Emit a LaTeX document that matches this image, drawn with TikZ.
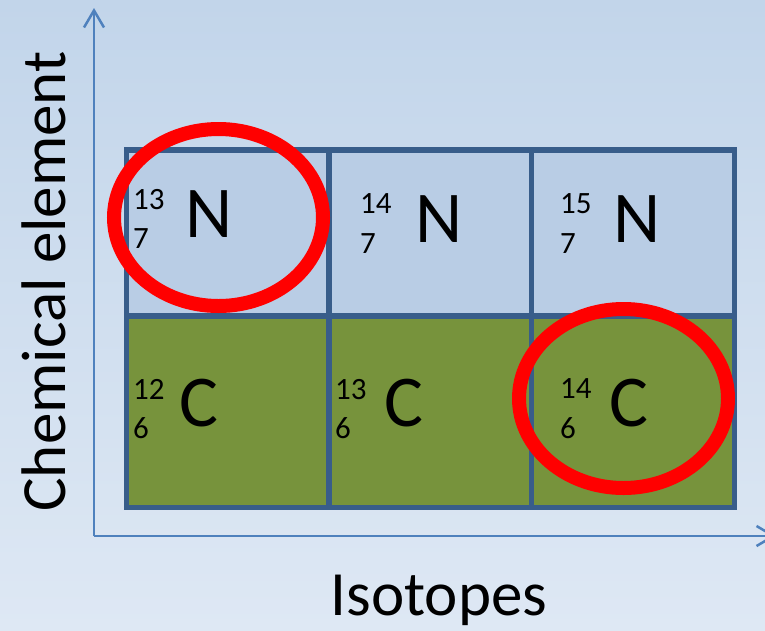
\documentclass[tikz,border=0pt]{standalone}
\usepackage{fontspec}
\setmainfont{Carlito}
\usetikzlibrary{arrows.meta,shapes.geometric}
\definecolor{bgtop}{RGB}{194,213,234}
\definecolor{bgbot}{RGB}{222,232,244}
\definecolor{topfill}{RGB}{185,205,229}
\definecolor{botfill}{RGB}{119,147,60}
\definecolor{gridc}{RGB}{56,93,138}
\definecolor{axisc}{RGB}{79,129,189}
\tikzset{
  cell/.style={draw=gridc, line width=5.5pt, minimum width=203pt, inner sep=0pt, line join=miter},
  big/.style={font=\fontsize{73}{73}\selectfont, anchor=base west, inner sep=0pt},
  small/.style={font=\fontsize{31}{31}\selectfont, anchor=base west, inner sep=0pt},
  axislabel/.style={font=\fontsize{63}{63}\selectfont, anchor=base, inner sep=0pt},
  axisline/.style={draw=axisc, line width=2.5pt, -{Straight Barb[length=17pt,width=20pt,line width=2.5pt]}},
  ring/.style={draw=red, line width=14pt, ellipse, inner sep=0pt},
}
\begin{document}
\begin{tikzpicture}[x=1pt,y=-1pt]
\useasboundingbox (0,0) rectangle (765,630);
\shade[top color=bgtop, bottom color=bgbot] (0,0) rectangle (765,630);
\begin{scope}
\clip (0,0) rectangle (765,630);
% axes
\coordinate (origin) at (94,536);
\coordinate (ytip) at (94,8);
\coordinate (xtip) at (776,536);
\draw[axisline] (origin) -- (ytip);
\draw[axisline] (origin) -- (xtip);
\end{scope}
% cells
\node[cell, fill=topfill, minimum height=166pt] (n13) at (227.75,233) {};
\node[cell, fill=topfill, minimum height=166pt] (n14) at (430.35,233) {};
\node[cell, fill=topfill, minimum height=166pt] (n15) at (632.85,233) {};
\node[cell, fill=botfill, minimum height=191.5pt] (c12) at (227.75,411.75) {};
\node[cell, fill=botfill, minimum height=191.5pt] (c13) at (430.35,411.75) {};
\node[cell, fill=botfill, minimum height=191.5pt] (c14) at (632.85,411.75) {};
% texts top row
\node[small] (a13) at (133,209) {13};
\node[small] (z13) at (133,248) {7};
\node[big] (s13) at (185,237) {N};
\node[small] (a14) at (360,213) {14};
\node[small] (z14) at (360,253) {7};
\node[big] (s14) at (415,242) {N};
\node[small] (a15) at (560,213) {15};
\node[small] (z15) at (560,253) {7};
\node[big] (s15) at (613,242) {N};
% texts bottom row
\node[small] (a12) at (133,399) {12};
\node[small] (z12) at (133,438) {6};
\node[big] (s12) at (179,426) {C};
\node[small] (a13c) at (335,399) {13};
\node[small] (z13c) at (335,438) {6};
\node[big] (s13c) at (384,426) {C};
\node[small] (a14c) at (560,398) {14};
\node[small] (z14c) at (560,438) {6};
\node[big] (s14c) at (609,426) {C};
% rings
\node[ring, minimum width=209pt, minimum height=177pt] (r1) at (218.5,217.5) {};
\node[ring, minimum width=209pt, minimum height=179pt] (r2) at (623.5,398.5) {};
% axis labels
\node[axislabel] (xl) at (439,615) {Isotopes};
\node[axislabel, rotate=90] (yl) at (65,281.5) {Chemical element};
\end{tikzpicture}
\end{document}
